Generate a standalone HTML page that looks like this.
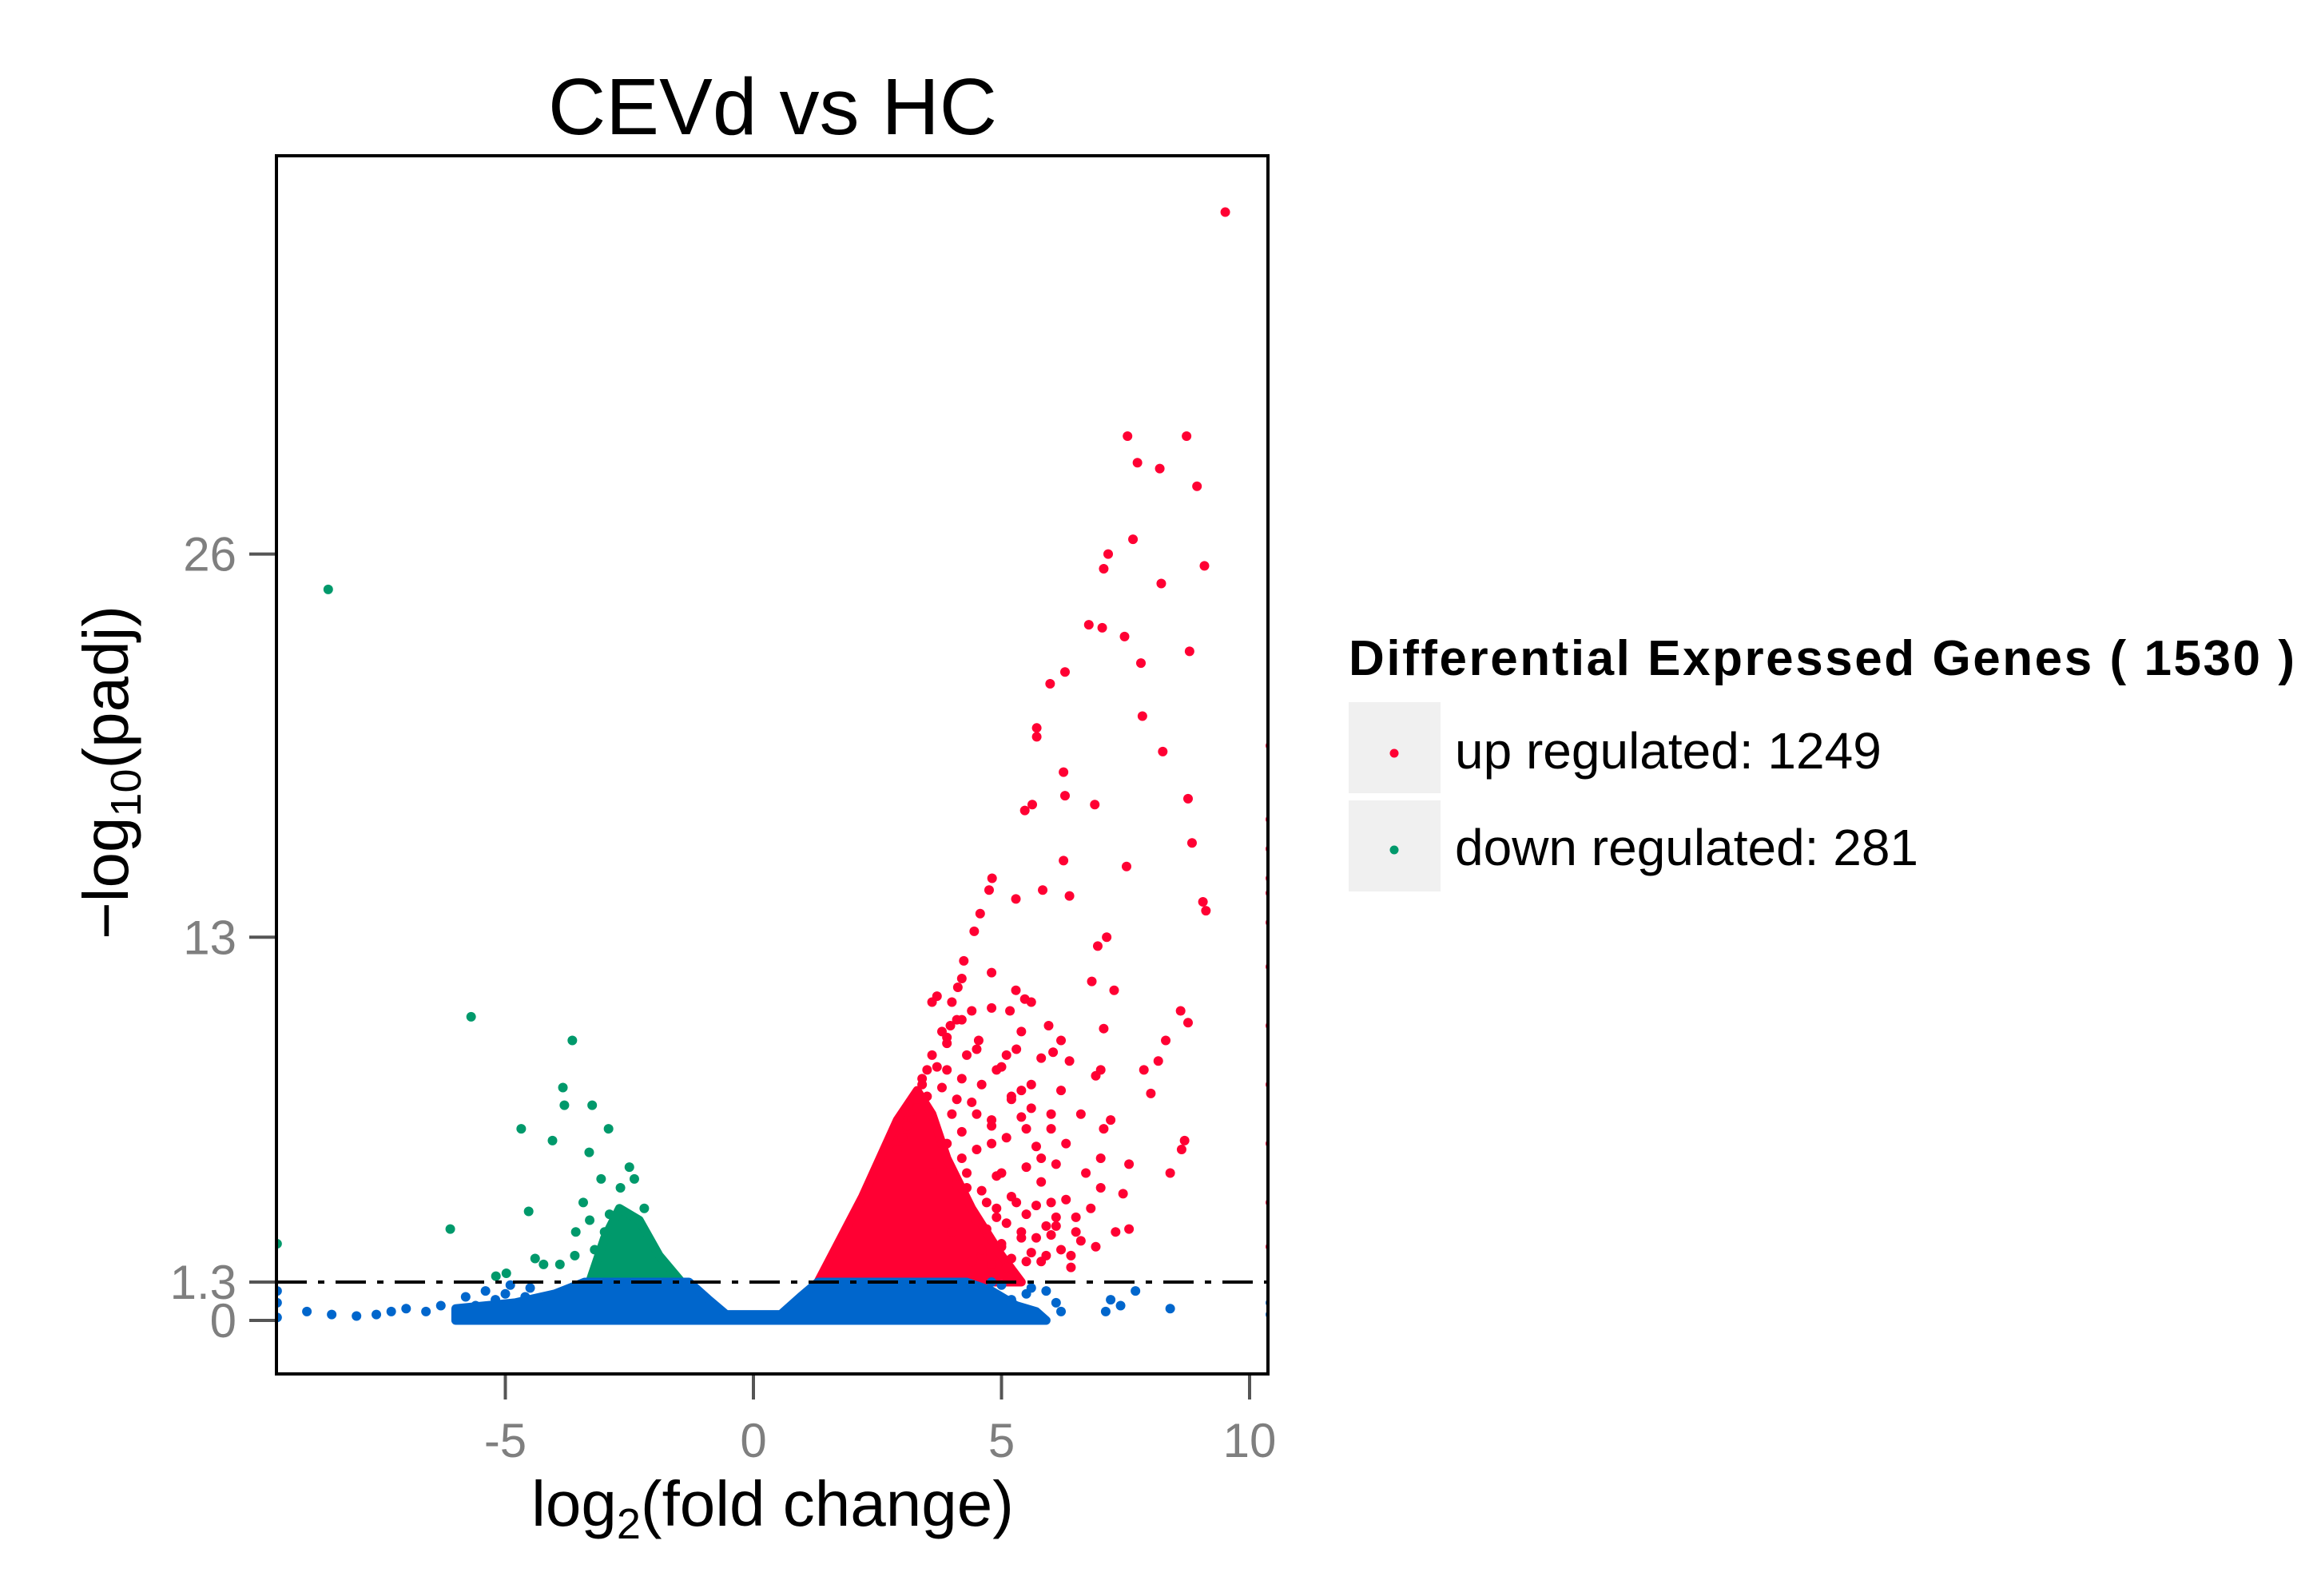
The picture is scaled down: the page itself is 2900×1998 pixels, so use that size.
<!DOCTYPE html>
<html><head><meta charset="utf-8"><style>
html,body{margin:0;padding:0;background:#fff;}
svg{display:block;font-family:"Liberation Sans",Arial,sans-serif;}
</style></head><body>
<svg id="chart" width="2900" height="1998" viewBox="0 0 2900 1998">
<defs><clipPath id="pclip"><rect x="346" y="195" width="1241" height="1525"/></clipPath></defs>
<text x="967" y="168" text-anchor="middle" font-size="100" fill="#000" textLength="562">CEVd vs HC</text>
<g id="plot" clip-path="url(#pclip)"></g>
<rect x="346" y="195" width="1241" height="1525" fill="none" stroke="#000" stroke-width="4"/>
<g id="axes"></g>
<text x="967" y="1910" text-anchor="middle" font-size="80" fill="#000">log<tspan font-size="54" dy="16">2</tspan><tspan dy="-16">(fold change)</tspan></text>
<text transform="translate(160,967) rotate(-90)" text-anchor="middle" font-size="80" fill="#000">−log<tspan font-size="54" dy="16">10</tspan><tspan dy="-16">(padj)</tspan></text>
<g>
<text x="1688" y="845" font-size="62" font-weight="bold" fill="#000" textLength="1184">Differential Expressed Genes ( 1530 )</text>
<g>
<rect x="1688" y="879" width="115" height="114" fill="#f0f0f0"/>
<circle cx="1745" cy="943" r="5.5" fill="#ff0033"/>
<text x="1821" y="962" font-size="64" fill="#000">up regulated: 1249</text>
</g>
<g>
<rect x="1688" y="1002" width="115" height="114" fill="#f0f0f0"/>
<circle cx="1745" cy="1064" r="5.5" fill="#00996b"/>
<text x="1821" y="1083" font-size="64" fill="#000">down regulated: 281</text>
</g>
</g>
</svg>
<script>
const xTicks=[-5,0,5,10];
const yTicks=[0,1.3,13,26];
const yTickLabels=["0","1.3","13","26"];
const threshold=1.3;
const upX=[9.51,7.54,8.73,7.74,8.19,8.94,7.65,7.15,7.06,8.22,9.09,6.76,7.03,7.48,8.79,7.81,6.28,5.98,7.84,5.71,5.71,8.25,6.25,6.28,6.88,8.76,5.47,5.62,7.52,6.25,8.84,4.81,4.75,9.06,9.12,5.29,5.83,6.37,6.94,7.12,4.57,4.45,4.24,4.12,5.29,5.17,5.47,6.82,7.27,8.61,8.76,8.31,8.16,7.87,8.01,3.97,4.54,5.95,6.04,6.37,7.06,7.0,8.69,8.63,8.40,7.57,7.45,7.57,7.06,7.0,
4.5,4.8,5.2,5.5,5.0,5.8,6.0,6.3,6.5,6.7,5.4,4.7,4.2,3.9,4.3,4.9,5.6,6.2,6.6,7.0,7.2,6.9,5.9,6.4,7.3,4.0,3.8,4.6,5.1,6.0,5.3,4.4,3.7,4.8,5.6,6.2,6.9,3.5,3.3,3.1,4.1,4.9,5.7,6.1,6.8,3.6,4.3,5.0,5.5,
3.4,3.6,3.8,4.0,4.2,3.5,3.7,3.9,4.1,3.3,3.2,3.4,3.0,3.1,2.9,
4.4,4.6,4.8,5.0,5.2,5.4,5.6,5.8,6.0,6.2,6.4,6.6,
4.5,4.7,4.9,5.1,5.3,5.5,5.7,5.9,6.1,6.3,6.5,
4.1,4.3,4.6,4.9,5.2,5.5,5.8,6.1,
3.9,4.2,4.5,4.8,5.1,5.4,5.7,6.0,
4.0,4.4,4.8,5.2,5.6,3.8,4.2,4.6,5.0,5.4,5.8,
3.6,3.9,4.2,4.5,4.8,5.1,5.4,
10.42,10.42,10.42,10.42,10.42,10.42,10.42,10.42,10.42,10.42,10.42,10.42];
const upY=[37.6,30.0,30.0,29.1,28.9,28.3,26.5,26.0,25.5,25.0,25.6,23.6,23.5,23.2,22.7,22.3,22.0,21.6,20.5,20.1,19.8,19.3,18.6,17.8,17.5,17.7,17.3,17.5,15.4,15.6,16.2,15.0,14.6,14.2,13.9,14.3,14.6,14.4,12.7,13.0,13.8,13.2,12.2,11.3,11.2,10.5,10.9,11.5,11.2,10.5,10.1,9.5,8.8,8.5,7.7,10.0,9.5,10.0,9.1,8.8,9.9,8.5,6.1,5.8,5.0,5.3,4.3,3.1,6.5,5.5,
7,6,7.5,6.5,5,5.5,4,6,3.5,5,3,4,5.5,8.5,9,8.5,8,7.8,7,4.5,6.8,2.5,2.2,1.8,3,3,6,2.2,1.8,7,9.2,10.5,11,11.8,10.8,9.5,8.3,8.5,7.5,6.5,7.5,3.5,2.8,3.2,3.8,5,4.5,2.5,2,
8.2,9.0,9.8,10.8,11.6,7.6,8.6,9.4,10.2,7.2,6.8,8.0,6.2,6.6,5.8,
2.0,2.4,1.9,2.6,2.1,2.8,2.3,2.0,2.9,2.4,2.2,2.7,
3.4,3.1,3.8,3.3,4.0,3.6,3.9,3.2,3.5,4.1,3.0,
4.6,5.0,4.4,4.9,4.2,5.2,4.7,5.3,
6.0,6.4,5.8,6.6,6.2,6.9,5.9,6.5,
7.0,7.4,6.8,7.6,7.2,7.9,8.2,8.0,8.6,7.8,8.9,
10.8,9.6,10.2,9.2,10.6,9.0,9.8,
19.5,17,15,13.5,12,10,8,6,4,2.5,14.5,16];
const upCoreX=[1.3,2.2,2.9,3.3,3.6,3.9,4.4,5.0,5.4];
const upCoreY=[1.3,4.2,6.8,7.8,7.0,5.5,3.8,2.2,1.3];
const downX=[-8.57,-5.69,-3.65,-6.11,-9.6,-3.84,-3.81,-4.68,-4.05,-3.25,-3.31,-4.53,-2.92,-3.07,-2.68,-3.43,-3.58,-4.23,-4.98,-5.19,-2.9,-3.2,-2.5,-2.2,-3.6,-3.0,-3.3,-2.4,-3.9,-4.4];
const downY=[24.8,10.3,9.5,3.1,2.6,7.9,7.3,6.5,6.1,7.3,5.7,3.7,6.5,4.8,4.5,4.0,3.0,1.9,1.6,1.5,3.6,2.4,5.2,3.8,2.2,3.0,3.4,4.8,1.9,2.1];
const downCoreX=[-3.3,-3.0,-2.7,-2.3,-1.9,-1.45];
const downCoreY=[1.3,2.8,3.8,3.4,2.2,1.3];
const nsCoreX=[-6.0,-6.0,-4.8,-4.0,-3.4,-1.3,-0.9,-0.55,0.55,0.95,1.3,4.3,4.8,5.3,5.7,5.9];
const nsCoreY=[0,0.4,0.6,0.9,1.3,1.3,0.7,0.2,0.2,0.8,1.3,1.3,1.0,0.5,0.3,0];
const nsX=[-9.6,-9.6,-9.6,-9.0,-8.5,-8.0,-7.6,-7.3,-7.0,-6.6,-6.3,-5.8,-5.4,-5.0,-4.5,-4.2,5.0,5.5,5.9,6.1,6.2,4.8,7.1,7.2,7.7,8.4,7.4,10.42,10.42,-5.6,-5.2,-4.9,-4.6,5.2,5.6];
const nsY=[0.1,0.6,1.0,0.3,0.2,0.15,0.2,0.3,0.4,0.3,0.5,0.8,1.0,0.9,1.1,0.8,1.2,0.9,1.0,0.6,0.3,1.3,0.3,0.7,1.0,0.4,0.5,0.2,0.6,0.5,0.7,1.2,0.8,0.7,1.1];

const NS='http://www.w3.org/2000/svg';
const X0=943, XU=62.1, Y0=1653, YU=36.9;
function sx(v){return X0+XU*v;}
function sy(v){return Y0-YU*v;}
const plot=document.getElementById('plot');
const axes=document.getElementById('axes');
function poly(xs,ys,color,name){
  const p=document.createElementNS(NS,'polygon');
  p.setAttribute('points',xs.map((x,i)=>sx(x)+','+sy(ys[i])).join(' '));
  p.setAttribute('fill',color);p.setAttribute('stroke',color);p.setAttribute('stroke-width','11');p.setAttribute('stroke-linejoin','round');
  
  
  plot.appendChild(p);
}
function pts(xs,ys,color,name){
  const g=document.createElementNS(NS,'g');
  
  
  xs.forEach((x,i)=>{
    const c=document.createElementNS(NS,'circle');
    c.setAttribute('cx',sx(x));c.setAttribute('cy',sy(ys[i]));c.setAttribute('r','6');c.setAttribute('fill',color);
    
    
    g.appendChild(c);
  });
  plot.appendChild(g);
}
poly(upCoreX,upCoreY,'#ff0033','up-regulated-cluster');
pts(upX,upY,'#ff0033','up-regulated-points');
poly(downCoreX,downCoreY,'#00996b','down-regulated-cluster');
pts(downX,downY,'#00996b','down-regulated-points');
poly(nsCoreX,nsCoreY,'#0066cc','not-significant-cluster');
pts(nsX,nsY,'#0066cc','not-significant-points');
const th=document.createElementNS(NS,'line');
th.setAttribute('x1',346);th.setAttribute('x2',1589);th.setAttribute('y1',sy(threshold));th.setAttribute('y2',sy(threshold));
th.setAttribute('stroke','#000');th.setAttribute('stroke-width','4');th.setAttribute('stroke-dasharray','38 14 8 14');


plot.appendChild(th);
xTicks.forEach(v=>{
  const l=document.createElementNS(NS,'line');
  l.setAttribute('x1',sx(v));l.setAttribute('x2',sx(v));l.setAttribute('y1',1722);l.setAttribute('y2',1752);
  l.setAttribute('stroke','#555');l.setAttribute('stroke-width','4');
  
  
  axes.appendChild(l);
  const t=document.createElementNS(NS,'text');
  t.setAttribute('x',sx(v));t.setAttribute('y',1824);t.setAttribute('text-anchor','middle');t.setAttribute('font-size','60');t.setAttribute('fill','#7f7f7f');
  t.textContent=String(v);
  
  
  axes.appendChild(t);
});
yTicks.forEach((v,i)=>{
  const l=document.createElementNS(NS,'line');
  l.setAttribute('x1',312);l.setAttribute('x2',344);l.setAttribute('y1',sy(v));l.setAttribute('y2',sy(v));
  l.setAttribute('stroke','#555');l.setAttribute('stroke-width','4');
  
  
  axes.appendChild(l);
  const t=document.createElementNS(NS,'text');
  t.setAttribute('x',296);t.setAttribute('y',sy(v)+21);t.setAttribute('text-anchor','end');t.setAttribute('font-size','60');t.setAttribute('fill','#7f7f7f');
  t.textContent=yTickLabels[i];
  
  
  axes.appendChild(t);
});
</script>
</body></html>
